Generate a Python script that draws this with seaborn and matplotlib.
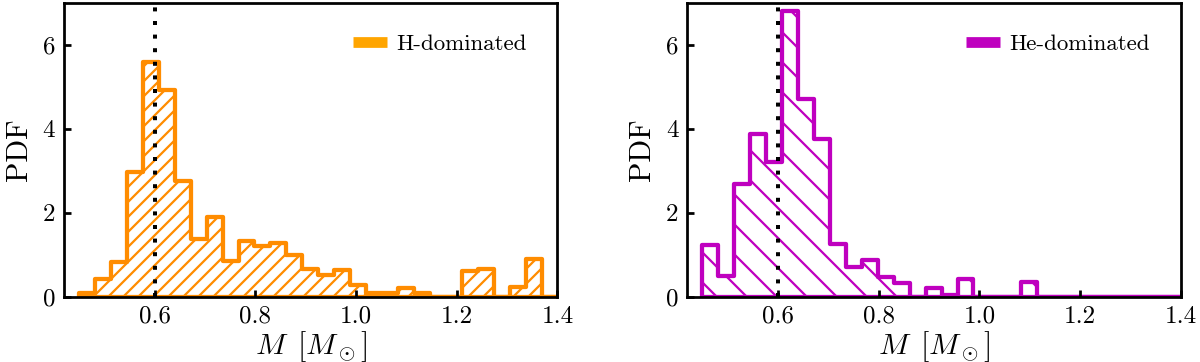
import numpy as np
import matplotlib
matplotlib.use("Agg")
import matplotlib.pyplot as plt
from matplotlib.lines import Line2D
import seaborn as sns

# bins: 30 equal bins between 0.45 and 1.4 Msun
n_bins = 30
m_range = (0.45, 1.4)
bin_edges = np.linspace(m_range[0], m_range[1], n_bins + 1)
bin_centers = 0.5 * (bin_edges[:-1] + bin_edges[1:])

# PDF values
h_pdf = [0.10, 0.42, 0.83, 2.97, 5.59, 4.92, 2.76, 1.37, 1.91, 0.85,
         1.32, 1.22, 1.28, 0.99, 0.67, 0.53, 0.63, 0.28, 0.10, 0.08,
         0.21, 0.08, 0.00, 0.00, 0.61, 0.67, 0.00, 0.24, 0.89, 0.00]
he_pdf = [1.23, 0.50, 2.69, 3.87, 3.20, 6.81, 4.70, 3.75, 1.25, 0.72,
          0.87, 0.48, 0.32, 0.00, 0.22, 0.05, 0.42, 0.00, 0.00, 0.00,
          0.35, 0.00, 0.00, 0.00, 0.00, 0.00, 0.00, 0.00, 0.00, 0.00]

x_ticks = [0.6, 0.8, 1.0, 1.2, 1.4]
y_ticks = [0, 2, 4, 6]
m_ref = 0.6

plt.rcParams['font.family'] = 'cmr10'
plt.rcParams['mathtext.fontset'] = 'cm'
plt.rcParams['axes.formatter.use_mathtext'] = True
plt.rcParams['hatch.linewidth'] = 0.9
plt.rcParams['axes.linewidth'] = 1.1

fig, axes = plt.subplots(1, 2, figsize=(1200 / 180, 362 / 180), dpi=180)
fig.subplots_adjust(left=0.0533, right=0.984, bottom=0.18, top=0.992, wspace=0.263)

panels = [
    (axes[0], h_pdf, 'darkorange', 'orange', '////', 'H-dominated'),
    (axes[1], he_pdf, 'm', 'm', '\\\\', 'He-dominated'),
]

for ax, pdf, col, leg_col, hatch, label in panels:
    sns.histplot(x=bin_centers, weights=pdf, bins=n_bins, binrange=m_range,
                 stat='count', element='step', fill=True, color=col,
                 facecolor='none', edgecolor=col, hatch=hatch, linewidth=1.7,
                 ax=ax)
    ax.axvline(m_ref, color='k', ls=(0, (1, 2.4)), lw=1.6)
    ax.set_xlim(0.42, 1.4)
    ax.set_ylim(0, 7)
    ax.set_xticks(x_ticks)
    ax.set_xticklabels([f"{t:.1f}" for t in x_ticks])
    ax.set_yticks(y_ticks)
    ax.set_yticklabels([str(t) for t in y_ticks])
    ax.tick_params(direction='in', length=2.8, width=1.1, labelsize=10)
    ax.set_xlabel(r'$M\ \,[M_\odot]$', fontsize=12, labelpad=0.5)
    ax.set_ylabel('PDF', fontsize=12)
    handle = Line2D([], [], color=leg_col, lw=4.3, solid_capstyle='butt')
    ax.legend([handle], [label], loc='upper right', frameon=False, fontsize=9.2,
              handlelength=1.48, handletextpad=0.39, borderaxespad=0.95)

fig.savefig('out.png', dpi=180)
